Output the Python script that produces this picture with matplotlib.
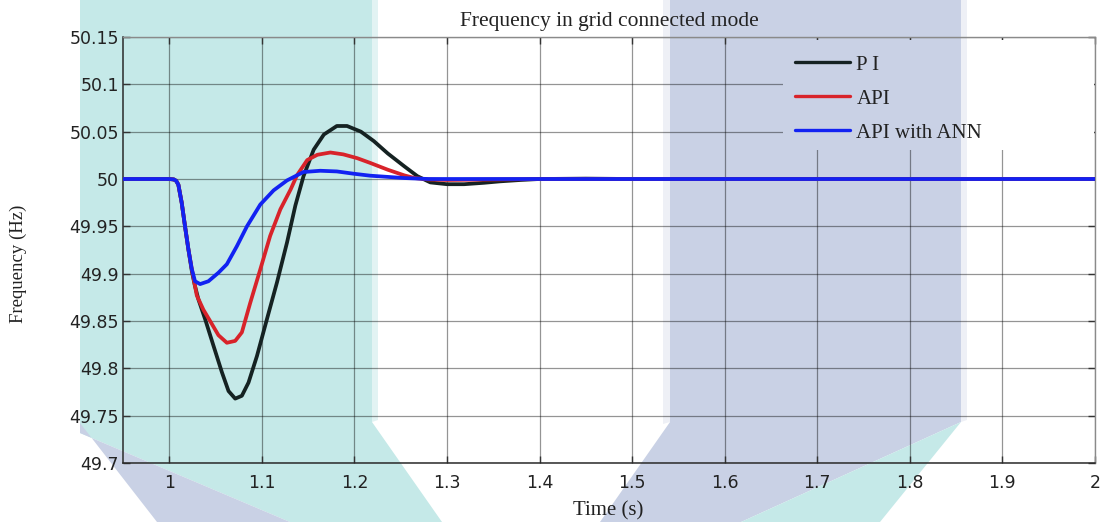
import matplotlib
matplotlib.use("Agg")
import matplotlib.pyplot as plt
from matplotlib.patches import Polygon, Rectangle

# ---- data -------------------------------------------------------------
t_pi = [0.95, 1.0, 1.005, 1.0075, 1.0098, 1.0134, 1.017, 1.0206, 1.0243, 1.0275,
        1.0314, 1.0387, 1.0477, 1.0568, 1.064, 1.0712, 1.0784, 1.0856, 1.0947,
        1.1055, 1.1164, 1.1272, 1.1362, 1.145, 1.156, 1.167, 1.181, 1.192,
        1.207, 1.221, 1.236, 1.254, 1.268, 1.282, 1.300, 1.3185, 1.34, 1.357,
        1.38, 1.40, 1.45, 1.5, 2.0]
f_pi = [50.0, 50.0, 49.9995, 49.998, 49.994, 49.975, 49.950, 49.926, 49.903, 49.888,
        49.873, 49.852, 49.824, 49.796, 49.776, 49.768, 49.771, 49.785, 49.813,
        49.852, 49.891, 49.933, 49.972, 50.003, 50.031, 50.047, 50.056, 50.056,
        50.050, 50.040, 50.027, 50.0133, 50.003, 49.9964, 49.9945, 49.9945, 49.996, 49.9975,
        49.999, 50.0, 50.0004, 50.0, 50.0]

t_api = [0.95, 1.0, 1.005, 1.0075, 1.0098, 1.0134, 1.017, 1.0206, 1.0243, 1.0297,
         1.0368, 1.0441, 1.0531, 1.0622, 1.0712, 1.0784, 1.0874, 1.0983, 1.109,
         1.120, 1.1311, 1.138, 1.149, 1.160, 1.174, 1.188, 1.203, 1.217, 1.236,
         1.254, 1.265, 1.28, 1.30, 1.35, 1.4, 2.0]
f_api = [50.0, 50.0, 49.9995, 49.998, 49.994, 49.975, 49.950, 49.926, 49.905, 49.877,
         49.862, 49.850, 49.835, 49.827, 49.829, 49.838, 49.869, 49.9045, 49.940,
         49.968, 49.989, 50.004, 50.020, 50.0256, 50.028, 50.026, 50.022, 50.017, 50.0098,
         50.0038, 50.001, 49.9995, 49.999, 49.9995, 50.0, 50.0]

t_ann = [0.95, 1.0, 1.005, 1.0075, 1.0098, 1.0134, 1.017, 1.0206, 1.0243, 1.0278,
         1.0333, 1.0423, 1.0531, 1.0622, 1.073, 1.0839, 1.0983, 1.1127, 1.1272,
         1.145, 1.163, 1.181, 1.199, 1.217, 1.254, 1.28, 2.0]
f_ann = [50.0, 50.0, 49.9995, 49.998, 49.994, 49.975, 49.950, 49.926, 49.905, 49.892,
         49.889, 49.892, 49.901, 49.910, 49.929, 49.950, 49.973, 49.988, 49.9985,
         50.0074, 50.0087, 50.008, 50.0056, 50.0035, 50.001, 50.0, 50.0]

series_labels = ["P I", "API", "API with ANN"]
x_ticks = [1.0, 1.1, 1.2, 1.3, 1.4, 1.5, 1.6, 1.7, 1.8, 1.9, 2.0]
x_ticklabels = ["1", "1.1", "1.2", "1.3", "1.4", "1.5", "1.6", "1.7", "1.8", "1.9", "2"]
y_ticks = [49.7, 49.75, 49.8, 49.85, 49.9, 49.95, 50.0, 50.05, 50.1, 50.15]
y_ticklabels = ["49.7", "49.75", "49.8", "49.85", "49.9", "49.95", "50", "50.05", "50.1", "50.15"]

# ---- figure -----------------------------------------------------------
W, H = 1104, 522
AX_L, AX_T, AX_R, AX_B = 123, 37, 1095, 463
fig = plt.figure(figsize=(W / 100, H / 100), dpi=100)
fig.patch.set_facecolor("white")

def fpx(x, y):
    """pixel position (from top-left) -> figure fraction"""
    return (x / W, 1 - y / H)

def apx(x, y):
    """pixel position (from top-left) -> axes fraction"""
    return ((x - AX_L) / (AX_R - AX_L), (AX_B - y) / (AX_B - AX_T))

TEAL = "#c5e9e8"
LAV = "#c9d1e5"
TEAL_EDGE = "#e2f3f3"
LAV_EDGE = "#eef0f6"

# decorative coloured bands behind the plot
shapes = [
    ([(80, 0), (372, 0), (372, 422), (442, 522), (290, 522), (80, 433)], TEAL),
    ([(80, 423), (80, 433), (290, 522), (157, 522)], LAV),
    ([(670, 0), (961, 0), (961, 422), (741, 522), (600, 522), (670, 422)], LAV),
    ([(961, 422), (880, 522), (741, 522)], TEAL),
    ([(372, 0), (378, 0), (378, 420), (372, 422)], TEAL_EDGE),
    ([(663, 0), (670, 0), (670, 422), (663, 424)], LAV_EDGE),
    ([(961, 0), (967, 0), (967, 420), (961, 422)], LAV_EDGE),
]
for verts, col in shapes:
    fig.patches.append(Polygon([fpx(*v) for v in verts], closed=True,
                               transform=fig.transFigure, facecolor=col,
                               edgecolor="none", zorder=-1))

ax = fig.add_axes([AX_L / W, (H - AX_B) / H, (AX_R - AX_L) / W, (AX_B - AX_T) / H])
ax.set_facecolor("none")

serif = ["Liberation Serif", "DejaVu Serif"]
sans = ["DejaVu Sans"]

line_kw = dict(lw=2.7, solid_joinstyle="round", solid_capstyle="round")
ax.plot(t_pi, f_pi, color="#152222", label=series_labels[0], zorder=3, **line_kw)
ax.plot(t_api, f_api, color="#d8232a", label=series_labels[1], zorder=3.1, **line_kw)
ax.plot(t_ann, f_ann, color="#1222f2", label=series_labels[2], zorder=3.2, **line_kw)

ax.set_xlim(0.95, 2.0)
ax.set_ylim(49.7, 50.15)
ax.set_xticks(x_ticks)
ax.set_xticklabels(x_ticklabels, fontfamily=sans, fontsize=12.5, color="#222222")
ax.set_yticks(y_ticks)
ax.set_yticklabels(y_ticklabels, fontfamily=sans, fontsize=12.5, color="#222222")
ax.tick_params(axis="both", direction="in", length=5, width=1, color="#333333",
               top=True, right=True)
ax.tick_params(axis="x", pad=8)
ax.tick_params(axis="y", pad=3)
ax.grid(True, color="black", alpha=0.42, lw=0.9)

for side in ["left", "bottom"]:
    ax.spines[side].set_color("#2a2a2a")
    ax.spines[side].set_linewidth(1.1)
for side in ["top", "right"]:
    ax.spines[side].set_color("#8a8a8a")
    ax.spines[side].set_linewidth(1.0)

ax.set_title("Frequency in grid connected mode", fontfamily=serif, fontsize=15.5,
             color="#222222", pad=8)
ax.set_xlabel("Time (s)", fontfamily=serif, fontsize=15, color="#222222", va="center")
ax.xaxis.set_label_coords(0.499, -0.113)
ax.set_ylabel("Frequency (Hz)", fontfamily=serif, fontsize=13.5, color="#222222", va="center")
ax.yaxis.set_label_coords(-0.108, 0.467)

# opaque backing of the legend area (hides the grid there)
for (x0, x1), col in [((783, 961), LAV), ((961, 967), LAV_EDGE), ((967, 1094), "white")]:
    (ax0, ay0), (ax1, ay1) = apx(x0, 150), apx(x1, 40)
    ax.add_patch(Rectangle((ax0, ay0), ax1 - ax0, ay1 - ay0, transform=ax.transAxes,
                           facecolor=col, edgecolor="none", zorder=2))

leg = ax.legend(loc="upper left", bbox_to_anchor=apx(795, 55),
                frameon=False, prop={"family": serif, "size": 15},
                handlelength=2.65, handletextpad=0.3, labelspacing=0.69,
                borderpad=0, borderaxespad=0)
for txt in leg.get_texts():
    txt.set_color("#222222")
for ln in leg.get_lines():
    ln.set_linewidth(2.4)

fig.savefig("out.png", dpi=100)
